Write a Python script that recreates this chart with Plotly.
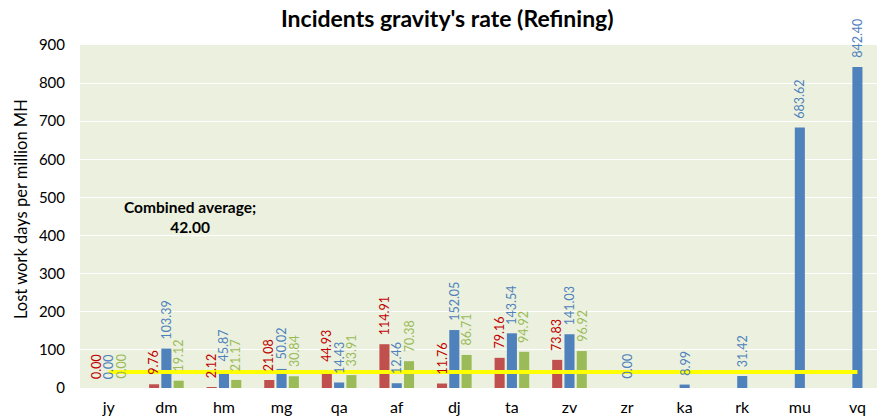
import plotly.graph_objects as go

# Sites and incident gravity rates (lost work days per million MH)
categories = ["jy", "dm", "hm", "mg", "qa", "af", "dj", "ta", "zv", "zr", "ka", "rk", "mu", "vq"]
rate_red = [0.00, 9.76, 2.12, 21.08, 44.93, 114.91, 11.76, 79.16, 73.83, None, None, None, None, None]
rate_blue = [0.00, 103.39, 45.87, 50.02, 14.43, 12.46, 152.05, 143.54, 141.03, 0.00, 8.99, 31.42, 683.62, 842.40]
rate_green = [0.00, 19.12, 21.17, 30.84, 33.91, 70.38, 86.71, 94.92, 96.92, None, None, None, None, None]
combined_average = 42.00
y_ticks = [0, 100, 200, 300, 400, 500, 600, 700, 800, 900]

FONT = "Lato"
BAR_GAP = 0.36
GROUP_GAP = 0.18

# Figure geometry (pixels)
W, H = 877, 418
M_L, M_R, M_T, M_B = 80, 0, 45, 30
PLOT_H = H - M_T - M_B

series = [
    (rate_red, "#C0504D", "#C00000"),
    (rate_blue, "#4F81BD", "#4F81BD"),
    (rate_green, "#9BBB59", "#9BBB59"),
]

x_pos = list(range(len(categories)))
fig = go.Figure()

for values, bar_color, _ in series:
    fig.add_trace(go.Bar(
        x=x_pos, y=values, marker=dict(color=bar_color, line=dict(width=0)),
        showlegend=False, hoverinfo="y",
    ))

# Combined average line across all sites
fig.add_trace(go.Scatter(
    x=x_pos, y=[combined_average] * len(categories), mode="lines",
    line=dict(color="#FFFF00", width=4), showlegend=False, hoverinfo="y",
))

# Rotated value labels drawn above the bars (and above the average line)
slot = (1 - BAR_GAP) / len(series)
annotations = []
for k, (values, _, text_color) in enumerate(series):
    offset = (k - (len(series) - 1) / 2) * slot
    for i, v in enumerate(values):
        if v is None:
            continue
        annotations.append(dict(
            x=i + offset, y=v, xref="x", yref="y", text=f"{v:.2f}",
            textangle=-90, showarrow=False, xanchor="center", yanchor="bottom",
            yshift=7, font=dict(family=FONT, size=12.5, color=text_color),
        ))

annotations.append(dict(
    x=1.41, y=450, xref="x", yref="y", showarrow=False,
    text=f"<b>Combined average;</b><br><b>{combined_average:.2f}</b>",
    align="center", font=dict(family=FONT, size=15.5, color="#000000"),
))

# Y axis title as a rotated paper annotation, centred at pixel (21, 209)
annotations.append(dict(
    x=(21 - M_L) / (W - M_L - M_R), y=(H - M_B - 209) / PLOT_H,
    xref="paper", yref="paper", showarrow=False,
    text="Lost work days per million MH", textangle=-90,
    xanchor="center", yanchor="middle",
    font=dict(family=FONT, size=16.5, color="#000000"),
))

fig.update_layout(
    width=W, height=H,
    margin=dict(l=M_L, r=M_R, t=M_T, b=M_B),
    paper_bgcolor="#FFFFFF", plot_bgcolor="#EBF1DE",
    barmode="group", bargap=BAR_GAP, bargroupgap=GROUP_GAP,
    title=dict(text="<b>Incidents gravity's rate (Refining)</b>", x=0.51, xanchor="center",
               y=0.955, yanchor="middle", font=dict(family=FONT, size=23, color="#000000")),
    font=dict(family=FONT, color="#000000"),
    annotations=annotations,
    xaxis=dict(
        range=[-0.5, 13.34], tickvals=x_pos, ticktext=categories, showgrid=False,
        zeroline=False, showline=False, ticks="", ticklabelstandoff=8,
        tickfont=dict(family=FONT, size=16),
    ),
    yaxis=dict(
        range=[0, 900], tickvals=y_ticks, showgrid=True, gridcolor="#FFFFFF", gridwidth=1,
        zeroline=False, showline=False, ticks="", ticklabelstandoff=14,
        tickfont=dict(family=FONT, size=15),
    ),
)

fig.write_html("out.html")
